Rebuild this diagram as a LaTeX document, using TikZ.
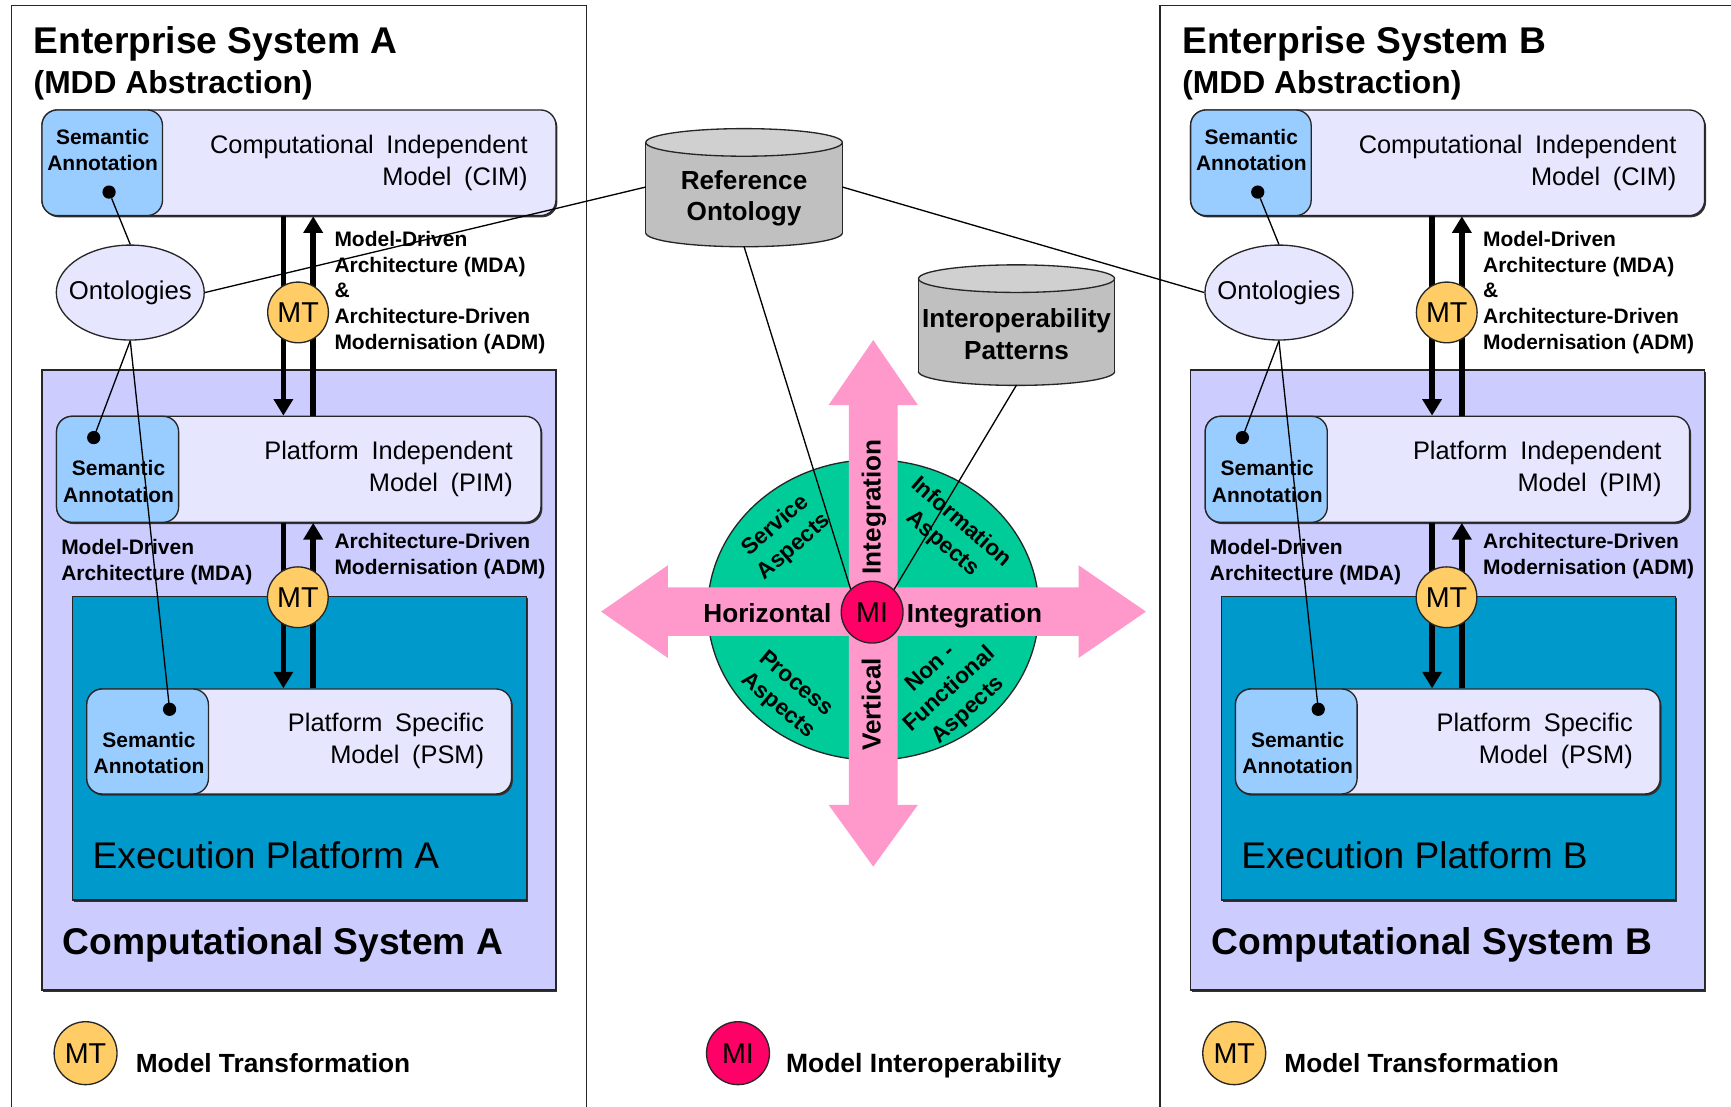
\documentclass[tikz,border=0pt]{standalone}
\usepackage{fontspec}
\setmainfont{Liberation Sans}
\usetikzlibrary{arrows.meta,calc,shapes.geometric,shadows}

\definecolor{lav}{RGB}{230,230,255}
\definecolor{sablue}{RGB}{153,204,255}
\definecolor{csys}{RGB}{204,204,255}
\definecolor{execc}{RGB}{0,153,204}
\definecolor{mtfill}{RGB}{255,204,102}
\definecolor{mifill}{RGB}{255,0,102}
\definecolor{quadc}{RGB}{0,204,153}
\definecolor{pinkc}{RGB}{255,153,204}
\definecolor{cylbody}{RGB}{192,192,192}
\definecolor{cyltop}{RGB}{208,208,208}

\newcommand\fs[2]{\fontsize{#1}{#2}\selectfont}
\newcommand\wsp{\hspace{0.5em}}

\tikzset{
  outline/.style={draw=black!85, line width=1.2pt},
  shadowed/.style={drop shadow={shadow xshift=1.3pt, shadow yshift=-1.6pt, fill=black!80, opacity=1}},
  modelbox/.style={outline, fill=lav, rounded corners=14pt, inner sep=0pt, anchor=north west, shadowed},
  sabox/.style={outline, fill=sablue, rounded corners=14pt, inner sep=0pt, anchor=north west},
  plainbox/.style={outline, inner sep=0pt, anchor=north west, shadowed},
  txt/.style={inner sep=0pt, outer sep=0pt},
  satext/.style={txt, align=center, font=\bfseries\fs{19}{24}},
  modeltext/.style={txt, align=right, anchor=east, font=\fs{23}{29}},
  lbl/.style={txt, align=left, anchor=west, font=\bfseries\fs{19}{23.3}},
  dotmark/.style={circle, fill=black, inner sep=0pt, minimum size=12pt},
  mtnode/.style={circle, outline, fill=mtfill, inner sep=0pt, minimum size=55pt, font=\fs{26}{30}},
  minode/.style={circle, outline, fill=mifill, inner sep=0pt, minimum size=56pt, font=\fs{26}{30}},
  conn/.style={draw=black, line width=1.2pt},
  fatarrow/.style={line width=5pt, -{Triangle[width=17pt,length=15pt]}},
  legendtext/.style={txt, anchor=base west, font=\bfseries\fs{23.8}{28}},
  aspect/.style={txt, align=center, font=\bfseries\fs{20.5}{25.5}},
  bigbold/.style={txt, font=\bfseries\fs{23.7}{28.5}},
}

% database drum: centre x, half width, top y, bottom y, end radius
\newcommand\Cyl[5]{%
  \filldraw[fill=cylbody, outline] (#1,#4) ellipse [x radius=#2pt, y radius=#5pt];
  \fill[cylbody] ({#1-#2},#3) rectangle ({#1+#2},#4);
  \draw[outline] ({#1-#2},#3) -- ({#1-#2},#4) ({#1+#2},#3) -- ({#1+#2},#4);
  \filldraw[fill=cyltop, outline] (#1,#3) ellipse [x radius=#2pt, y radius=#5pt];
}

% one enterprise system: #1 name suffix, #2 horizontal offset, #3 printed letter
\newcommand\EntSys[3]{%
\begin{scope}[xshift=#2pt]
  \draw[outline] (10.4,1020) -- (10.4,5) -- (531,5) -- (531,1020);
  \node[txt, anchor=base west, font=\bfseries\fs{33.7}{40}] (title#1) at (30.5,48.3) {Enterprise System #3};
  \node[txt, anchor=base west, font=\bfseries\fs{28.8}{34}] (abs#1) at (30.5,84.5) {(MDD Abstraction)};
  % computational independent model
  \node[modelbox, minimum width=465.6pt, minimum height=95.7pt] (cim#1) at (37.4,99) {};
  \node[sabox, minimum width=109.2pt, minimum height=95.7pt] (cimsa#1) at (37.4,99) {};
  \node[satext] (cimsat#1) at (93,136) {Semantic\\Annotation};
  \node[modeltext] (cimt#1) at (478,148) {Computational\wsp Independent\\Model\wsp (CIM)};
  % computational system and execution platform
  \node[plainbox, fill=csys, minimum width=465.6pt, minimum height=561.6pt] (comp#1) at (37.4,334.5) {};
  \node[plainbox, fill=execc, minimum width=411.4pt, minimum height=275pt] (exec#1) at (65.2,539.6) {};
  % platform independent model
  \node[modelbox, minimum width=438.8pt, minimum height=96pt] (pim#1) at (50.6,376.5) {};
  \node[sabox, minimum width=110.6pt, minimum height=96pt] (pimsa#1) at (50.6,376.5) {};
  \node[satext] (pimsat#1) at (107.4,436) {Semantic\\Annotation};
  \node[modeltext] (pimt#1) at (464.5,425) {Platform\wsp Independent\\Model\wsp (PIM)};
  % platform specific model
  \node[modelbox, minimum width=384.7pt, minimum height=95.1pt] (psm#1) at (78,623.5) {};
  \node[sabox, minimum width=110.2pt, minimum height=95.1pt] (psmsa#1) at (78,623.5) {};
  \node[satext] (psmsat#1) at (135,682) {Semantic\\Annotation};
  \node[modeltext] (psmt#1) at (438.5,671) {Platform\wsp Specific\\Model\wsp (PSM)};
  \node[txt, anchor=base west, font=\fs{33.6}{40}] (exect#1) at (84,786.5) {Execution Platform #3};
  \node[txt, anchor=base west, font=\bfseries\fs{33.7}{40}] (compt#1) at (57,865) {Computational System #3};
  % ontologies
  \node[ellipse, outline, fill=lav, minimum width=134pt, minimum height=86pt, inner sep=0pt] (ont#1) at (118,265) {};
  \node[txt, font=\fs{23.3}{28}] (ontt#1) at (118,265) {Ontologies};
  % model transformations
  \coordinate (xd#1) at (256.7,0);
  \coordinate (xu#1) at (283.7,0);
  \draw[fatarrow] (cim#1.south -| xd#1) -- (pim#1.north -| xd#1);
  \draw[fatarrow] (pim#1.north -| xu#1) -- (cim#1.south -| xu#1);
  \draw[fatarrow] (pim#1.south -| xd#1) -- (psm#1.north -| xd#1);
  \draw[fatarrow] (psm#1.north -| xu#1) -- (pim#1.south -| xu#1);
  \node[mtnode] (mta#1) at (270,283) {MT};
  \node[mtnode] (mtb#1) at (269.8,541) {MT};
  \node[lbl] (mdaadm#1) at (303,265) {Model-Driven\\Architecture (MDA)\\\&\\Architecture-Driven\\Modernisation (ADM)};
  \node[lbl] (mda#1) at (55.5,509) {Model-Driven\\Architecture (MDA)};
  \node[lbl] (adm#1) at (303,503.5) {Architecture-Driven\\Modernisation (ADM)};
  % semantic annotation links
  \node[dotmark] (cimdot#1) at (98.8,174) {};
  \coordinate (pimdotc#1) at (84.9,396.4);
  \coordinate (psmdotc#1) at (153.6,642.5);
  \draw[conn] (cimdot#1) -- (ont#1.north);
  \draw[conn] (ont#1.south) -- (pimdotc#1);
  \draw[conn] (ont#1.south) -- (psmdotc#1);
  \node[dotmark] (pimdot#1) at (pimdotc#1) {};
  \node[dotmark] (psmdot#1) at (psmdotc#1) {};
  % legend
  \node[mtnode, minimum size=57pt] (legmt#1) at (77.5,954) {MT};
  \node[legendtext] (legmtt#1) at (123,971.5) {Model Transformation};
\end{scope}}

\begin{document}
\begin{tikzpicture}[x=1pt, y=-1pt]
  \useasboundingbox (0,0) rectangle (1568,1002);
  \fill[white] (0,0) rectangle (1568,1002);
  \clip (0,0) rectangle (1568,1002);

  \EntSys{A}{0}{A}
  \EntSys{B}{1040.5}{B}

  % shared repositories
  \Cyl{674}{89}{129}{211}{12.5}
  \node[txt, minimum width=178pt, minimum height=108pt] (refont) at (674,169.4) {};
  \node[bigbold, align=center] (reftxt) at (674,179.5) {Reference\\Ontology};
  \Cyl{920.8}{88.8}{252.4}{336.6}{12.5}
  \node[txt, minimum width=177.6pt, minimum height=109.7pt] (ipat) at (920.8,293.9) {};
  \node[bigbold, align=center] (iptxt) at (920.8,302.5) {Interoperability\\Patterns};

  % interoperability aspects
  \node[ellipse, outline, fill=quadc, minimum width=300pt, minimum height=272pt, inner sep=0pt] (quads) at (791,552.5) {};
  \fill[pinkc] (769,532) -- (769,367) -- (750.5,367) -- (791,308) -- (831.5,367) -- (813,367)
    -- (813,532) -- (977,532) -- (977,512) -- (1038,554) -- (977,596) -- (977,576)
    -- (813,576) -- (813,729) -- (831.5,729) -- (791,785) -- (750.5,729) -- (769,729)
    -- (769,576) -- (605,576) -- (605,596) -- (544.5,554) -- (605,512) -- (605,532) -- cycle;
  \node[aspect, rotate=41] (svc) at (711,486) {Service\\Aspects};
  \node[aspect, rotate=-41] (info) at (862,483) {Information\\Aspects};
  \node[aspect, rotate=-40] (proc) at (712.5,629.5) {Process\\Aspects};
  \node[aspect, rotate=42] (nonf) at (860.5,625) {Non -\\Functional\\Aspects};
  \node[bigbold, anchor=base east] (horiz) at (753,564) {Horizontal};
  \node[bigbold, anchor=base west] (hinteg) at (821.5,564) {Integration};
  \node[bigbold, rotate=90, text height=0.72em, text depth=0pt] (vinteg) at (794,459) {Integration};
  \node[bigbold, rotate=90, text height=0.72em, text depth=0pt] (vert) at (794,638) {Vertical};

  % links between repositories, ontologies and interoperability
  \node[minode] (mi) at (790,554.5) {MI};
  \draw[conn] (ontA.east) -- (refont.west);
  \draw[conn] (refont.east) -- (ontB.west);
  \draw[conn] (refont.south) -- (mi.133);
  \draw[conn] (ipat.south) -- (mi.46);

  % legend
  \node[minode, minimum size=57pt] (legmi) at (668.5,954) {MI};
  \node[legendtext, font=\bfseries\fs{24}{28}] (legmit) at (712,971.5) {Model Interoperability};
\end{tikzpicture}
\end{document}
